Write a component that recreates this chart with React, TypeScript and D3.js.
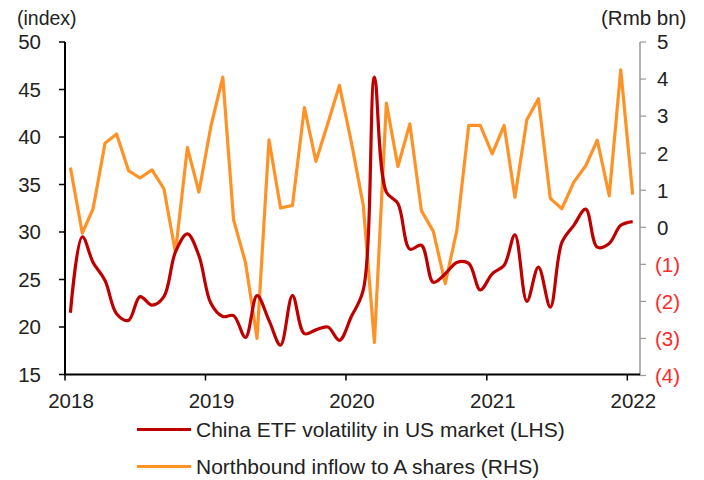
import React from "react";
import * as d3 from "d3";

const startMonth = new Date(2018, 0, 15);
const monthCount = 49;
const dates: Date[] = d3.range(monthCount).map((i) => d3.timeMonth.offset(startMonth, i));

const etfVolatility = [
  21.5, 29.5, 26.8, 24.9, 21.4, 20.7, 23.2, 22.3, 23.2, 27.9, 29.8, 27.5,
  22.5, 21.1, 21.2, 18.9, 23.3, 20.7, 18.1, 23.3, 19.3, 19.7, 20.0, 18.6,
  21.1, 23.9, 46.3, 34.2, 33.0, 28.2, 28.6, 24.7, 25.6, 26.8, 26.7, 23.9,
  25.6, 26.5, 29.7, 22.7, 26.3, 22.1, 28.9, 30.7, 32.4, 28.4, 28.8, 30.7,
  31.1,
];

const northboundInflow = [
  1.61, -0.16, 0.5, 2.27, 2.52, 1.53, 1.33, 1.55, 1.04, -0.68, 2.15, 0.95,
  2.72, 4.05, 0.2, -0.95, -3.0, 2.36, 0.52, 0.59, 3.23, 1.78, 2.81, 3.83,
  2.3, 0.59, -3.11, 3.35, 1.64, 2.79, 0.45, -0.11, -1.52, -0.09, 2.75, 2.75,
  1.98, 2.75, 0.81, 2.9, 3.47, 0.78, 0.5, 1.22, 1.66, 2.35, 0.85, 4.25,
  0.88,
];

const leftTicks = [15, 20, 25, 30, 35, 40, 45, 50];
const rightTicks = [-4, -3, -2, -1, 0, 1, 2, 3, 4, 5];
const yearTicks = [2018, 2019, 2020, 2021, 2022];
const legendLabels = [
  "China ETF volatility in US market (LHS)",
  "Northbound inflow to A shares (RHS)",
];

const RED = "#C00000";
const ORANGE = "#FF9227";
const FONT = "'Liberation Sans', Arial, sans-serif";

export default function App() {
  const left = 65;
  const right = 640;
  const top = 42;
  const bottom = 374.5;

  const x = d3
    .scaleTime()
    .domain([new Date(2018, 0, 1), new Date(2022, 1, 3)])
    .range([left, right]);
  const yL = d3.scaleLinear().domain([15, 50]).range([bottom, top]);
  const yR = d3.scaleLinear().domain([-4, 5]).range([bottom + 1, top]);

  const redLine = d3
    .line<number>()
    .x((_, i) => x(dates[i]))
    .y((d) => yL(d))
    .curve(d3.curveCatmullRom.alpha(0.5))(etfVolatility);

  const orangeLine = d3
    .line<number>()
    .x((_, i) => x(dates[i]))
    .y((d) => yR(d))(northboundInflow);

  const fmtRight = (v: number) => (v < 0 ? `(${Math.abs(v)})` : `${v}`);

  return (
    <svg
      width={704}
      height={480}
      style={{ position: "absolute", left: 0, top: 0, background: "#fff" }}
      fontFamily={FONT}
    >
      <rect x={0} y={0} width={704} height={480} fill="#fff" />
      {/* axis titles */}
      <text x={17} y={25} fontSize={19.5} fill="#222">(index)</text>
      <text x={601} y={25} fontSize={20.5} fill="#222">(Rmb bn)</text>

      {/* left axis */}
      <line x1={left} x2={left} y1={top} y2={bottom} stroke="#000" strokeWidth={2} />
      {leftTicks.map((t) => (
        <g key={t}>
          <line x1={left - 6} x2={left} y1={yL(t)} y2={yL(t)} stroke="#000" strokeWidth={1.5} />
          <text x={41} y={yL(t)} dy="0.36em" fontSize={20.5} textAnchor="end" fill="#222">
            {t}
          </text>
        </g>
      ))}

      {/* right axis */}
      <line x1={right} x2={right} y1={top} y2={bottom + 1} stroke="#999" strokeWidth={1.5} />
      {rightTicks.map((t) => (
        <g key={t}>
          <line x1={right} x2={right + 6} y1={yR(t)} y2={yR(t)} stroke="#999" strokeWidth={1.2} />
          <text
            x={t < 0 ? 655 : 657}
            y={yR(t)}
            dy="0.36em"
            fontSize={20.5}
            fill={t < 0 ? "#FF2A2A" : "#222"}
          >
            {fmtRight(t)}
          </text>
        </g>
      ))}

      {/* x axis */}
      <line x1={left - 1} x2={right} y1={bottom} y2={bottom} stroke="#000" strokeWidth={2} />
      {yearTicks.map((yr) => (
        <g key={yr}>
          <line
            x1={x(new Date(yr, 0, 1))}
            x2={x(new Date(yr, 0, 1))}
            y1={bottom}
            y2={bottom + 6}
            stroke="#000"
            strokeWidth={1.5}
          />
          <text
            x={x(new Date(yr, 0, 1)) + 6}
            y={401}
            dy="0.36em"
            fontSize={20.5}
            textAnchor="middle"
            fill="#222"
          >
            {yr}
          </text>
        </g>
      ))}

      {/* series */}
      <path d={orangeLine || ""} fill="none" stroke={ORANGE} strokeWidth={3.2} strokeLinejoin="round" />
      <path d={redLine || ""} fill="none" stroke={RED} strokeWidth={3.2} strokeLinejoin="round" />

      {/* legend */}
      {legendLabels.map((lbl, i) => {
        const ly = 429.5 + i * 37;
        return (
          <g key={lbl}>
            <line x1={137} x2={191} y1={ly} y2={ly} stroke={i === 0 ? RED : ORANGE} strokeWidth={3.2} />
            <text x={196} y={ly} dy="0.36em" fontSize={21} fill="#222">
              {lbl}
            </text>
          </g>
        );
      })}
    </svg>
  );
}
